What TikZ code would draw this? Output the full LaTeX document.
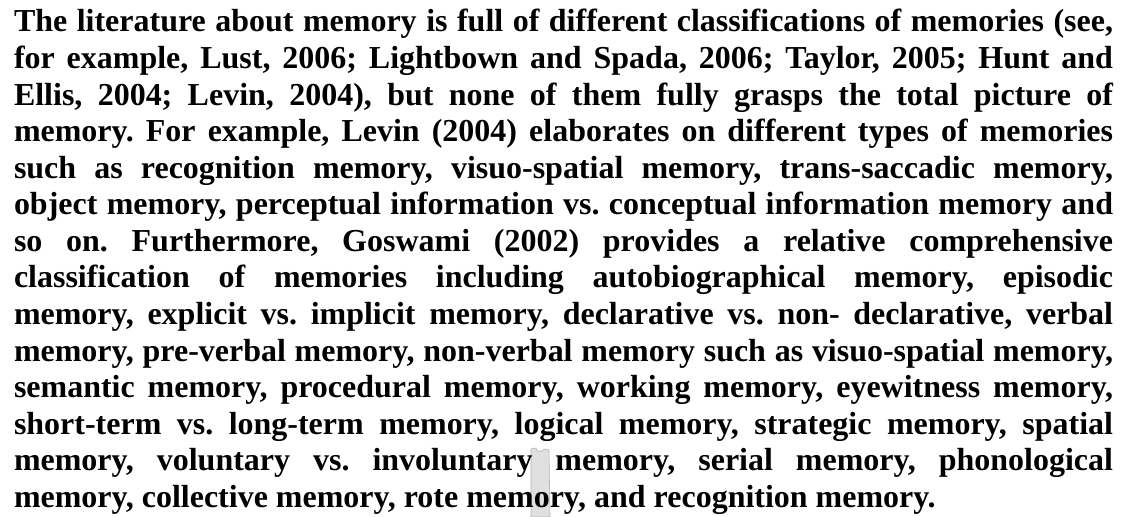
\documentclass[tikz,border=0pt]{standalone}
\usepackage{fontspec}
\setmainfont{Liberation Serif}
\tikzset{
  para/.style={inner sep=0pt, outer sep=0pt, anchor=base west, font=\bfseries\fontsize{32.1}{36.7}\selectfont},
  smudge/.style={fill=black!12, draw=black!30, line width=0.6bp}
}
\begin{document}
\begin{tikzpicture}[x=1bp,y=1bp]
\useasboundingbox (0,0) rectangle (1127,517);
\fill[white] (0,0) rectangle (1127,517);
% grey scanning strip
\path[smudge] (531,0) -- (531,68) -- (536,69) -- (537,66) -- (543,66) -- (544,68) -- (549,67) -- (550,0) -- cycle;
\node[para] (text) at (14,485) {\vtop{\hsize=1099bp \parindent=0pt \hbadness=10000 \hfuzz=50bp \tolerance=10000 \frenchspacing
\spaceskip=0.25em plus 2em minus 0.15em
The literature about memory is full of different classifications of memories (see,\linebreak
for example, Lust, 2006; Lightbown and Spada, 2006; Taylor, 2005; Hunt and\linebreak
Ellis, 2004; Levin, 2004), but none of them fully grasps the total picture of\linebreak
memory. For example, Levin (2004) elaborates on different types of memories\linebreak
such as recognition memory, visuo-spatial memory, trans-saccadic memory,\linebreak
object memory, perceptual information vs. conceptual information memory and\linebreak
so on. Furthermore, Goswami (2002) provides a relative comprehensive\linebreak
classification of memories including autobiographical memory, episodic\linebreak
memory, explicit vs. implicit memory, declarative vs. non- declarative, verbal\linebreak
memory, pre-verbal memory, non-verbal memory such as visuo-spatial memory,\linebreak
semantic memory, procedural memory, working memory, eyewitness memory,\linebreak
short-term vs. long-term memory, logical memory, strategic memory, spatial\linebreak
memory, voluntary vs. involuntary memory, serial memory, phonological\linebreak
memory, collective memory, rote memory, and recognition memory.\par}};
\end{tikzpicture}
\end{document}
